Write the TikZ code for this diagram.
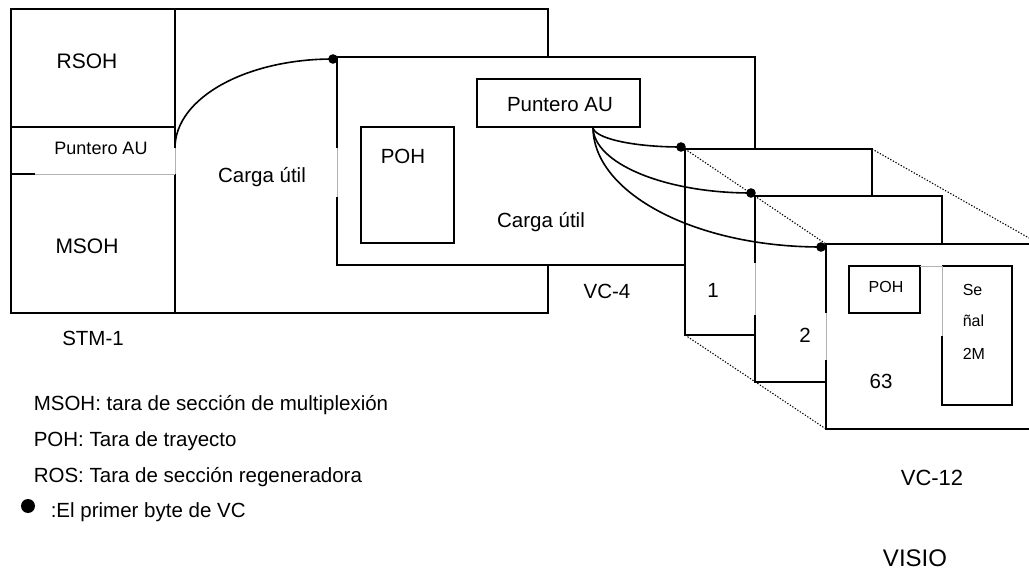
\documentclass[tikz,border=0pt]{standalone}
\usepackage{fontspec}
\setmainfont{Liberation Sans}
\begin{document}
\begin{tikzpicture}[x=1pt,y=-1pt, line width=1.6pt,
  lbl/.style={inner sep=0pt, font=\fontsize{20.5}{24}\selectfont},
  big/.style={inner sep=0pt, font=\fontsize{21}{25}\selectfont},
  mid/.style={inner sep=0pt, font=\fontsize{18}{21}\selectfont},
  sml/.style={inner sep=0pt, font=\fontsize{16}{19}\selectfont},
  faint/.style={draw=black!30, line width=0.6pt},
  dotline/.style={line width=1.1pt, dash pattern=on 1.3pt off 1.7pt},
  vcdot/.style={fill=black}]
\useasboundingbox (0,0) rectangle (1029,572);

% ---- STM-1 frame
\draw (548,57) -- (548,9) -- (11,9) -- (11,313) -- (548,313) -- (548,265);
\draw (175,9) -- (175,148);
\draw[faint] (175,148) -- (175,174);
\draw (175,174) -- (175,313);
\draw (11,127) -- (175,127);
\draw (11,174) -- (35,174);
\draw[faint] (35,174) -- (175,174);

% ---- VC-4
\draw (755,149) -- (755,57) -- (337,57) -- (337,148);
\draw[faint] (337,148) -- (337,197);
\draw (337,197) -- (337,265) -- (685,265);
\draw (477,79) rectangle (640,127);
\draw (361,127) rectangle (454,243);

% ---- VC-12 frames
\draw (872,196) -- (872,149) -- (685,149) -- (685,335) -- (755,335);
\draw (942,244) -- (942,196) -- (755,196) -- (755,263);
\draw[faint] (755,263) -- (755,315);
\draw (755,315) -- (755,382) -- (826,382);
\draw (1029,244) -- (826,244) -- (826,313);
\draw[faint] (826,313) -- (826,360);
\draw (826,360) -- (826,429) -- (1029,429);
\draw (849,266) rectangle (920,313);
\draw[faint] (920,266) -- (942,266);
\draw (942,336) -- (942,405) -- (1012,405) -- (1012,266) -- (942,266);
\draw[faint] (942,266) -- (942,336);

% ---- dotted perspective lines
\draw[dotline] (685,149) -- (826,244);
\draw[dotline] (872,149) -- (1029,238);
\draw[dotline] (685,335) -- (826,429);

% ---- pointer curves
\coordinate (pa1) at (175,148);
\coordinate (vc4c) at (333,59);
\draw (pa1) .. controls (175,98) and (246,59) .. (vc4c);
\fill[vcdot] (vc4c) circle (4.8pt);

\coordinate (pau) at (593,127);
\coordinate (d1) at (681,147);
\coordinate (d2) at (751,193);
\coordinate (d3) at (821,247);
\draw (pau) .. controls (593,138) and (632,147) .. (d1);
\draw (pau) .. controls (593,163) and (664,193) .. (d2);
\draw (pau) .. controls (593,193) and (695,247) .. (d3);
\fill[vcdot] (d1) circle (4.8pt);
\fill[vcdot] (d2) circle (4.8pt);
\fill[vcdot] (d3) circle (4.8pt);

% ---- texts
\node[big] (rsoh) at (87,61) {RSOH};
\node[big] (msoh) at (87,246) {MSOH};
\node[mid] (pau1) at (101,148) {Puntero AU};
\node[lbl] (cu1) at (262,177) {Carga útil};
\node[lbl] (stm) at (93,338) {STM-1};
\node[lbl] (vc4) at (607,291) {VC-4};
\node[lbl] (pau2) at (560,105) {Puntero AU};
\node[lbl] (poh1) at (403,156) {POH};
\node[lbl] (cu2) at (541,222) {Carga útil};
\node[lbl] (n1) at (713,290) {1};
\node[lbl] (n2) at (805,335) {2};
\node[sml] (poh2) at (886,287) {POH};
\node[lbl] (n63) at (881,381) {63};
\node[sml, anchor=west] (se) at (962,290) {Se};
\node[sml, anchor=west] (nal) at (962,321) {ñal};
\node[sml, anchor=west] (m2) at (962,354) {2M};
\node[inner sep=0pt, font=\fontsize{22}{26}\selectfont] (vc12) at (932,478) {VC-12};
\node[inner sep=0pt, font=\fontsize{24}{28}\selectfont] (visio) at (915,558) {VISIO};

% ---- legend
\node[lbl, anchor=west] (l1) at (33,405) {MSOH: tara de sección de multiplexión};
\node[lbl, anchor=west] (l2) at (33,441) {POH: Tara de trayecto};
\node[lbl, anchor=west] (l3) at (33,477) {ROS: Tara de sección regeneradora};
\fill[vcdot] (28,506) circle (7pt);
\node[lbl, anchor=west] (l4) at (50,512) {:El primer byte de VC};
\end{tikzpicture}
\end{document}
